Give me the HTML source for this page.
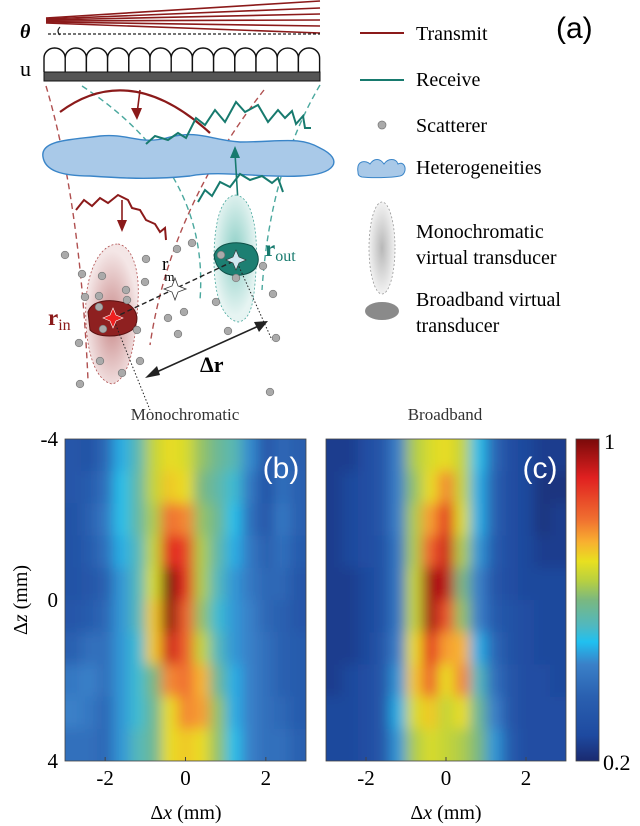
<!DOCTYPE html>
<html><head><meta charset="utf-8">
<style>
html,body{margin:0;padding:0;background:#fff;}
body{width:640px;height:826px;position:relative;overflow:hidden;font-family:"Liberation Serif",serif;}
svg{position:absolute;left:0;top:0;}
</style></head>
<body>
<svg id="fig" width="640" height="826" viewBox="0 0 640 826" xmlns="http://www.w3.org/2000/svg">
<defs>
  <radialGradient id="gPink" cx="50%" cy="55%" r="50%"><stop offset="0" stop-color="#c98a8a"/><stop offset="1" stop-color="#f4e6e6"/></radialGradient>
  <radialGradient id="gTeal" cx="50%" cy="45%" r="50%"><stop offset="0" stop-color="#8ccfc6"/><stop offset="1" stop-color="#e6f4f2"/></radialGradient>
  <radialGradient id="gGray" cx="50%" cy="50%" r="50%"><stop offset="0" stop-color="#b8b8b8"/><stop offset="1" stop-color="#f2f2f2"/></radialGradient>
  <filter id="blur" x="-0.1" y="-0.1" width="1.2" height="1.2"><feGaussianBlur stdDeviation="6.5"/></filter>
  <clipPath id="clipB"><rect x="65" y="439" width="241" height="322"/></clipPath>
  <clipPath id="clipC"><rect x="326" y="439" width="240" height="322"/></clipPath>
  <linearGradient id="cmapGrad" x1="0" y1="1" x2="0" y2="0">
    <stop offset="0" stop-color="#1a2a70"/><stop offset="0.08" stop-color="#1e4aa0"/>
    <stop offset="0.2" stop-color="#2a60b0"/><stop offset="0.3" stop-color="#3a80c8"/>
    <stop offset="0.37" stop-color="#20c0f0"/><stop offset="0.42" stop-color="#50b8c0"/>
    <stop offset="0.5" stop-color="#7ab880"/><stop offset="0.56" stop-color="#b8d040"/>
    <stop offset="0.62" stop-color="#e8e020"/><stop offset="0.68" stop-color="#f8b030"/>
    <stop offset="0.75" stop-color="#f07030"/><stop offset="0.88" stop-color="#e02020"/>
    <stop offset="1" stop-color="#7a0a0a"/>
  </linearGradient>
</defs>

<g>
  <g stroke="#8b1a1a" stroke-width="1.6">
    <line x1="46" y1="18" x2="320" y2="1"/><line x1="46" y1="19" x2="320" y2="8"/>
    <line x1="46" y1="20" x2="320" y2="14"/><line x1="46" y1="21" x2="320" y2="20"/>
    <line x1="46" y1="22" x2="320" y2="26"/><line x1="46" y1="23" x2="320" y2="33"/>
  </g>
  <line x1="48" y1="34" x2="320" y2="34" stroke="#222" stroke-width="1.3" stroke-dasharray="3,2"/>
  <path d="M60 27 q-4 4 0 8" fill="none" stroke="#222" stroke-width="1.2"/>
  <text x="20" y="38" font-size="20" font-weight="bold" font-style="italic">θ</text>
  <text x="20" y="76" font-size="22">u</text>
  <g id="array"></g>

  <g fill="none" stroke-width="1.4" stroke-dasharray="6,4">
    <path d="M46 86 Q80 200 88 380" stroke="#b05050"/>
    <path d="M264 90 Q170 210 150 345" stroke="#b05050"/>
    <path d="M82 86 Q210 170 200 300" stroke="#4aa89e"/>
    <path d="M320 85 Q270 170 262 290" stroke="#4aa89e"/>
  </g>
  <path d="M60 112 Q130 60 210 133" fill="none" stroke="#8b1a1a" stroke-width="2.2"/>
  <line x1="140" y1="90" x2="137" y2="114" stroke="#8b1a1a" stroke-width="1.6"/>
  <path d="M131 108 L137 120 L142 108 Z" fill="#8b1a1a"/>

  <path d="M43 157 C40 140 70 140 100 136 C130 133 140 146 170 137 C200 130 210 140 240 142 C280 142 300 136 320 148 C345 160 335 175 300 176 C260 178 220 170 190 176 C150 180 120 178 90 176 C60 176 45 170 43 157 Z" fill="#a9c9e8" stroke="#3a85c8" stroke-width="1.4"/>

  <path d="M146 144 L155 136 L168 140 L178 133 L186 138 L196 118 L205 125 L215 110 L225 122 L236 102 L245 112 L258 105 L268 122 L278 110 L285 118 L292 111 L296 124 L303 116 L305 128 L311 128" fill="none" stroke="#177a6e" stroke-width="2"/>
  <path d="M198 202 L205 190 L212 196 L220 182 L230 187 L240 174 L250 180 L262 176 L272 183 L278 178 L283 192" fill="none" stroke="#177a6e" stroke-width="2"/>
  <line x1="238" y1="202" x2="235" y2="153" stroke="#177a6e" stroke-width="1.6"/>
  <path d="M230 158 L235 146 L240 158 Z" fill="#177a6e"/>
  <path d="M76 210 L84 200 L92 206 L100 198 L108 203 L118 195 L128 200 L132 208 L140 210 L146 220 L155 224 L160 232 L165 228 L166 240" fill="none" stroke="#8b1a1a" stroke-width="2"/>
  <line x1="122" y1="200" x2="122" y2="225" stroke="#8b1a1a" stroke-width="1.6"/>
  <path d="M117 220 L122 232 L127 220 Z" fill="#8b1a1a"/>

  <path d="M118 244 C132 246 140 270 138 300 C136 340 130 380 112 384 C92 380 84 340 86 300 C88 270 100 244 118 244 Z" fill="url(#gPink)" stroke="#b05050" stroke-width="0.8" stroke-dasharray="2,2"/>
  <path d="M236 195 C255 198 258 240 256 270 C254 300 252 320 238 322 C220 318 214 290 214 260 C214 225 220 196 236 195 Z" fill="url(#gTeal)" stroke="#4aa89e" stroke-width="0.8" stroke-dasharray="2,2"/>
  <path d="M88 312 C92 300 110 298 128 304 C138 310 140 322 132 330 C120 338 98 338 90 330 Z" fill="#8e2020" stroke="#5a1010" stroke-width="1"/>
  <path d="M214 255 C218 242 238 240 252 246 C262 256 260 270 246 274 C232 278 216 274 214 255 Z" fill="#1d7f72" stroke="#0e4f47" stroke-width="1"/>
  <g id="scatter"></g>
  <line x1="113" y1="318" x2="236" y2="260" stroke="#222" stroke-width="1.4" stroke-dasharray="5,3"/>
  <line x1="113" y1="318" x2="150" y2="410" stroke="#222" stroke-width="1" stroke-dasharray="1.5,2"/>
  <line x1="236" y1="260" x2="272" y2="340" stroke="#222" stroke-width="1" stroke-dasharray="1.5,2"/>
  <path d="M113 308 L116 315 L123 318 L116 321 L113 328 L110 321 L103 318 L110 315 Z" fill="#ee2020" stroke="#fff" stroke-width="0.6"/>
  <path d="M236 250 L239 257 L246 260 L239 263 L236 270 L233 263 L226 260 L233 257 Z" fill="#cfe8f0" stroke="#333" stroke-width="0.6"/>
  <path d="M175 278 L178 286 L186 289 L178 292 L175 300 L172 292 L164 289 L172 286 Z" fill="#fff" stroke="#333" stroke-width="0.8"/>
  <line x1="150" y1="375" x2="263" y2="324" stroke="#222" stroke-width="1.6"/>
  <path d="M145 378 L157 366 L160 375 Z" fill="#222"/>
  <path d="M268 321 L254 322 L259 332 Z" fill="#222"/>
  <text x="200" y="372" font-size="22" font-weight="bold">Δr</text>
  <text x="162" y="270" font-size="19">r<tspan font-size="13" dx="-4" dy="11">m</tspan></text>
  <text x="48" y="325" font-size="23" font-weight="bold" fill="#8b1a1a">r<tspan font-size="16" font-weight="normal" dy="5">in</tspan></text>
  <text x="265" y="256" font-size="23" font-weight="bold" fill="#177a6e">r<tspan font-size="16" font-weight="normal" dy="5">out</tspan></text>
</g>

<g font-size="20">
  <g><line x1="360" y1="33" x2="404" y2="33" stroke="#8b1a1a" stroke-width="2"/><text x="416" y="40">Transmit</text></g>
  <g><line x1="360" y1="80" x2="404" y2="80" stroke="#177a6e" stroke-width="2"/><text x="416" y="86">Receive</text></g>
  <g><circle cx="382" cy="125" r="4" fill="#aaa" stroke="#777" stroke-width="0.7"/><text x="416" y="132">Scatterer</text></g>
  <g><path d="M358 172 C356 160 366 160 370 164 C374 158 380 158 384 164 C388 158 396 158 398 164 C406 160 408 174 400 176 C390 178 370 178 362 177 C358 176 358 174 358 172 Z" fill="#a9c9e8" stroke="#3a85c8" stroke-width="1"/><text x="416" y="174">Heterogeneities</text></g>
  <g><ellipse cx="382" cy="248" rx="13" ry="46" fill="url(#gGray)" stroke="#999" stroke-width="0.8" stroke-dasharray="2,2"/><text x="416" y="238">Monochromatic</text><text x="416" y="264">virtual transducer</text></g>
  <g><ellipse cx="382" cy="311" rx="17" ry="9" fill="#8a8a8a"/><text x="416" y="306">Broadband virtual</text><text x="416" y="332">transducer</text></g>
  <text x="556" y="38" font-family="Liberation Sans, sans-serif" font-size="30">(a)</text>
</g>

<text x="185" y="420" font-size="17" text-anchor="middle" fill="#333">Monochromatic</text>
<text x="445" y="420" font-size="17" text-anchor="middle" fill="#333">Broadband</text>
<g clip-path="url(#clipB)"><g id="mapB" filter="url(#blur)"></g></g>
<g clip-path="url(#clipC)"><g id="mapC" filter="url(#blur)"></g></g>
<rect x="65" y="439" width="241" height="322" fill="none" stroke="#444" stroke-width="0.8"/>
<rect x="326" y="439" width="240" height="322" fill="none" stroke="#444" stroke-width="0.8"/>
<text x="281" y="478" font-family="Liberation Sans, sans-serif" font-size="30" fill="#fff" text-anchor="middle">(b)</text>
<text x="540" y="478" font-family="Liberation Sans, sans-serif" font-size="30" fill="#fff" text-anchor="middle">(c)</text>
<g id="axes" font-size="21"></g>
<text transform="translate(27,600) rotate(-90)" font-size="20" text-anchor="middle">Δ<tspan font-style="italic">z</tspan> (mm)</text>
<text x="186" y="819" font-size="20" text-anchor="middle">Δ<tspan font-style="italic">x</tspan> (mm)</text>
<text x="446" y="819" font-size="20" text-anchor="middle">Δ<tspan font-style="italic">x</tspan> (mm)</text>
<rect x="576" y="439" width="23" height="322" fill="url(#cmapGrad)" stroke="#444" stroke-width="0.8"/>
<text x="604" y="449" font-size="22">1</text>
<text x="603" y="770" font-size="22">0.2</text>
</svg>
<script>
const NS="http://www.w3.org/2000/svg";
const xCenters=[-2.8,-2.4,-2.0,-1.6,-1.2,-0.8,-0.4,0,0.4,0.8,1.2,1.6,2.0,2.4,2.8];
const zCenters=[-3.6,-2.8,-2.0,-1.2,-0.4,0.4,1.2,2.0,2.8,3.6];
const xTicks=[-2,0,2];
const zTicks=[-4,0,4];
const monoValues=[
[.32,.30,.38,.48,.55,.66,.70,.68,.62,.58,.55,.45,.32,.38,.35],
[.32,.34,.40,.50,.56,.66,.72,.70,.60,.56,.52,.42,.30,.40,.36],
[.30,.36,.42,.50,.56,.64,.80,.78,.62,.58,.50,.40,.32,.42,.36],
[.30,.34,.40,.48,.54,.66,.90,.86,.64,.56,.48,.42,.36,.40,.34],
[.30,.32,.36,.46,.54,.68,1.0,.88,.64,.54,.46,.42,.38,.38,.32],
[.32,.34,.38,.46,.54,.72,.98,.82,.62,.52,.46,.44,.38,.36,.32],
[.36,.40,.40,.46,.52,.72,.92,.82,.66,.54,.46,.44,.40,.36,.34],
[.42,.44,.40,.46,.52,.60,.78,.80,.74,.58,.48,.44,.40,.36,.34],
[.44,.42,.38,.46,.52,.58,.70,.78,.76,.62,.48,.44,.40,.38,.34],
[.40,.40,.38,.46,.54,.58,.70,.72,.70,.62,.50,.44,.40,.40,.36]];
const broadValues=[
[.24,.24,.28,.32,.44,.64,.68,.70,.66,.50,.38,.28,.26,.24,.24],
[.24,.26,.28,.32,.44,.62,.70,.78,.66,.48,.36,.28,.26,.22,.22],
[.24,.26,.28,.32,.44,.64,.76,.88,.68,.48,.36,.28,.26,.22,.24],
[.24,.26,.28,.30,.42,.64,.82,.92,.64,.46,.34,.28,.26,.24,.24],
[.24,.24,.26,.30,.42,.66,.96,.94,.60,.44,.32,.28,.26,.26,.26],
[.24,.24,.26,.30,.42,.66,.96,.84,.62,.44,.34,.30,.28,.26,.26],
[.24,.24,.26,.32,.44,.70,.88,.76,.74,.48,.38,.30,.28,.26,.26],
[.24,.26,.28,.32,.46,.72,.82,.70,.78,.54,.40,.32,.28,.28,.26],
[.26,.26,.28,.32,.48,.68,.72,.66,.70,.58,.44,.32,.28,.28,.28],
[.26,.26,.28,.32,.46,.64,.68,.66,.64,.60,.46,.34,.28,.28,.28]];

const cmapStops=[[0,[26,42,112]],[0.08,[30,74,160]],[0.2,[42,96,176]],[0.3,[58,128,200]],[0.37,[32,192,240]],[0.42,[80,184,192]],[0.5,[122,184,128]],[0.56,[184,208,64]],[0.62,[232,224,32]],[0.68,[248,176,48]],[0.75,[240,112,48]],[0.88,[224,32,32]],[1,[122,10,10]]];
function cmap(v){
  const t=Math.max(0,Math.min(1,(v-0.2)/0.8));
  for(let i=1;i<cmapStops.length;i++){
    const [t1,c1]=cmapStops[i], [t0,c0]=cmapStops[i-1];
    if(t<=t1){const f=(t-t0)/(t1-t0);return `rgb(${c0.map((c,k)=>Math.round(c+(c1[k]-c)*f)).join(',')})`;}
  }
  return 'rgb(122,10,10)';
}
function drawMap(g,left,width,vals){
  const top=439,h=322;
  const xs=x=>left+(x+3)/6*width, zs=z=>top+(z+4)/8*h;
  const dx=0.4, dz=0.8;
  vals.forEach((row,i)=>row.forEach((v,j)=>{
    let x0=xs(xCenters[j]-dx/2), x1=xs(xCenters[j]+dx/2);
    let y0=zs(zCenters[i]-dz/2), y1=zs(zCenters[i]+dz/2);
    if(j===0)x0-=25; if(j===row.length-1)x1+=25;
    if(i===0)y0-=25; if(i===vals.length-1)y1+=25;
    const r=document.createElementNS(NS,'rect');
    r.setAttribute('x',x0);r.setAttribute('y',y0);
    r.setAttribute('width',x1-x0+0.5);r.setAttribute('height',y1-y0+0.5);
    r.setAttribute('fill',cmap(v));
    
    
    g.appendChild(r);
  }));
  const ax=document.getElementById('axes');
  xTicks.forEach(t=>{
    const x=xs(t);
    const l=document.createElementNS(NS,'line');
    l.setAttribute('x1',x);l.setAttribute('x2',x);l.setAttribute('y1',761);l.setAttribute('y2',757);l.setAttribute('stroke','#444');
    
    
    ax.appendChild(l);
    const tx=document.createElementNS(NS,'text');
    tx.setAttribute('x',x);tx.setAttribute('y',785);tx.setAttribute('text-anchor','middle');
    tx.textContent=t<0?'-'+Math.abs(t):String(t);
    
    
    ax.appendChild(tx);
  });
  return zs;
}
const zs=drawMap(document.getElementById('mapB'),65,241,monoValues);
drawMap(document.getElementById('mapC'),326,240,broadValues);
const ax=document.getElementById('axes');
zTicks.forEach(t=>{
  const y=zs(t);
  const tx=document.createElementNS(NS,'text');
  tx.setAttribute('x',58);tx.setAttribute('y',y+7);tx.setAttribute('text-anchor','end');
  tx.textContent=t<0?'-'+Math.abs(t):String(t);
  
  
  ax.appendChild(tx);
});
const arr=document.getElementById('array');
for(let i=0;i<13;i++){
  const x=44+i*21.2;
  const p=document.createElementNS(NS,'path');
  p.setAttribute('d',`M${x} 72 L${x} 58 A10.6 10 0 0 1 ${x+21.2} 58 L${x+21.2} 72`);
  p.setAttribute('fill','#fff');p.setAttribute('stroke','#111');p.setAttribute('stroke-width','1.4');
  
  
  arr.appendChild(p);
}
const bar=document.createElementNS(NS,'rect');
bar.setAttribute('x',44);bar.setAttribute('y',72);bar.setAttribute('width',276);bar.setAttribute('height',9);bar.setAttribute('fill','#555');bar.setAttribute('stroke','#111');


arr.appendChild(bar);
const dots=[[65,255],[82,274],[102,276],[146,259],[177,249],[192,243],[85,297],[99,296],[126,290],[145,282],[99,307],[127,300],[221,255],[263,266],[273,294],[216,302],[236,278],[168,318],[178,334],[228,331],[276,338],[79,343],[103,329],[137,330],[100,361],[140,361],[122,373],[80,384],[270,392],[184,312]];
dots.forEach(d=>{
  const c=document.createElementNS(NS,'circle');
  c.setAttribute('cx',d[0]);c.setAttribute('cy',d[1]);c.setAttribute('r',3.8);
  c.setAttribute('fill','#aaa');c.setAttribute('stroke','#777');c.setAttribute('stroke-width','0.7');
  
  
  document.getElementById('scatter').appendChild(c);
});
</script>
</body></html>
